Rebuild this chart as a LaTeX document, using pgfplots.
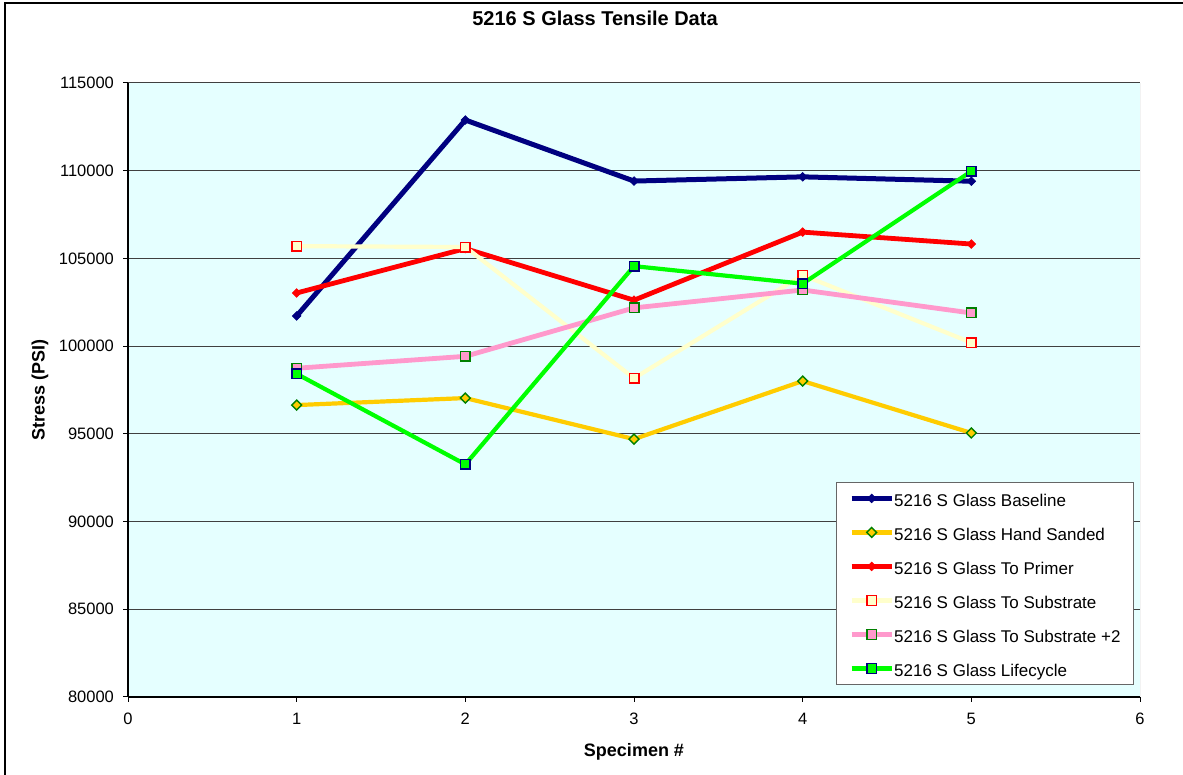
\documentclass[border=0pt]{standalone}
\usepackage{pgfplots}
\pgfplotsset{compat=1.18}
\usepackage{fontspec}
\setmainfont{Liberation Sans}
\definecolor{bgcyan}{HTML}{E5FFFF}
\definecolor{navyc}{HTML}{000080}
\definecolor{gold}{HTML}{FFCC00}
\definecolor{paley}{HTML}{FFFFCC}
\definecolor{pinkc}{HTML}{FF99CC}
\definecolor{greenc}{HTML}{00FF00}
\definecolor{dgreen}{HTML}{008000}
\begin{document}
\begin{tikzpicture}[x=1pt,y=1pt]
\draw[black, line width=1.2pt] (2.5,-20) rectangle (620,386);
\node[font=\fontsize{10}{12}\selectfont\bfseries] at (297.5,378.5) {5216 S Glass Tensile Data};
\begin{axis}[
  at={(64pt,39pt)}, anchor=south west,
  scale only axis, width=506pt, height=307pt,
  xmin=0, xmax=6, ymin=80000, ymax=115000,
  xtick={0,1,2,3,4,5,6},
  ytick={80000,85000,90000,95000,100000,105000,110000,115000},
  scaled y ticks=false,
  yticklabel style={/pgf/number format/fixed, /pgf/number format/precision=0, xshift=-1pt},
  axis background/.style={fill=bgcyan},
  axis x line*=bottom, axis y line*=left,
  axis line style={-, black, line width=0.6pt},
  ymajorgrids, grid style={black!75, line width=0.5pt},
  tick align=outside, major tick length=2.5pt,
  tick style={black, line width=0.5pt},
  /pgf/number format/assume math mode=true,
  /pgf/number format/1000 sep={},
  ticklabel style={font=\fontsize{8.25}{10}\selectfont},
  xticklabel style={yshift=-2pt},
  xlabel={Specimen \#},
  ylabel={Stress (PSI)},
  xlabel style={at={(axis description cs:0.5,-0.0896)}, anchor=center, font=\fontsize{9}{11}\selectfont\bfseries},
  ylabel style={at={(axis description cs:-0.087,0.5)}, anchor=center, font=\fontsize{9}{11}\selectfont\bfseries},
  legend cell align=left,
  legend style={at={(0.994,0.0195)}, anchor=south east,
    draw=black!60, fill=white,
    font=\fontsize{8.5}{10}\selectfont,
    inner xsep=6.5pt, inner ysep=4pt,
    row sep=8.8pt, column sep=0pt,
    nodes={inner sep=0pt, text height=8.2pt, text depth=0pt}},
  legend image code/.code={\draw[mark repeat=2,mark phase=2] plot coordinates {(0pt,0pt) (10pt,0pt) (20pt,0pt)};},
]
\draw[black!40, line width=0.5pt] (rel axis cs:1,0) -- (rel axis cs:1,1);
\addplot[navyc, line width=2.5pt, mark=square*, mark size=1.5pt, mark options={solid, rotate=45, fill=navyc, draw=navyc, line width=0.4pt}]
  coordinates {(1,101720) (2,112890) (3,109410) (4,109650) (5,109400)};
\addlegendentry{5216 S Glass Baseline}
\addplot[gold, line width=2.1pt, mark=square*, mark size=1.75pt, mark options={solid, rotate=45, fill=gold, draw=dgreen, line width=0.7pt}]
  coordinates {(1,96640) (2,97040) (3,94700) (4,98010) (5,95050)};
\addlegendentry{5216 S Glass Hand Sanded}
\addplot[red, line width=2.4pt, mark=square*, mark size=1.5pt, mark options={solid, rotate=45, fill=red, draw=red, line width=0.4pt}]
  coordinates {(1,103030) (2,105560) (3,102620) (4,106500) (5,105820)};
\addlegendentry{5216 S Glass To Primer}
\addplot[paley, line width=2.1pt, mark=square*, mark size=2.4pt, mark options={solid, fill=paley, draw=red, line width=0.7pt}]
  coordinates {(1,105700) (2,105650) (3,98170) (4,104050) (5,100200)};
\addlegendentry{5216 S Glass To Substrate}
\addplot[pinkc, line width=2.4pt, mark=square*, mark size=2.4pt, mark options={solid, fill=pinkc, draw=dgreen, line width=0.7pt}]
  coordinates {(1,98740) (2,99420) (3,102180) (4,103200) (5,101890)};
\addlegendentry{5216 S Glass To Substrate +2}
\addplot[greenc, line width=2.1pt, mark=square*, mark size=2.4pt, mark options={solid, fill=greenc, draw=navyc, line width=0.7pt}]
  coordinates {(1,98420) (2,93260) (3,104560) (4,103560) (5,109970)};
\addlegendentry{5216 S Glass Lifecycle}
\end{axis}
\pgfresetboundingbox
\useasboundingbox (0,0) rectangle (591.5,387.5);
\end{tikzpicture}
\end{document}
